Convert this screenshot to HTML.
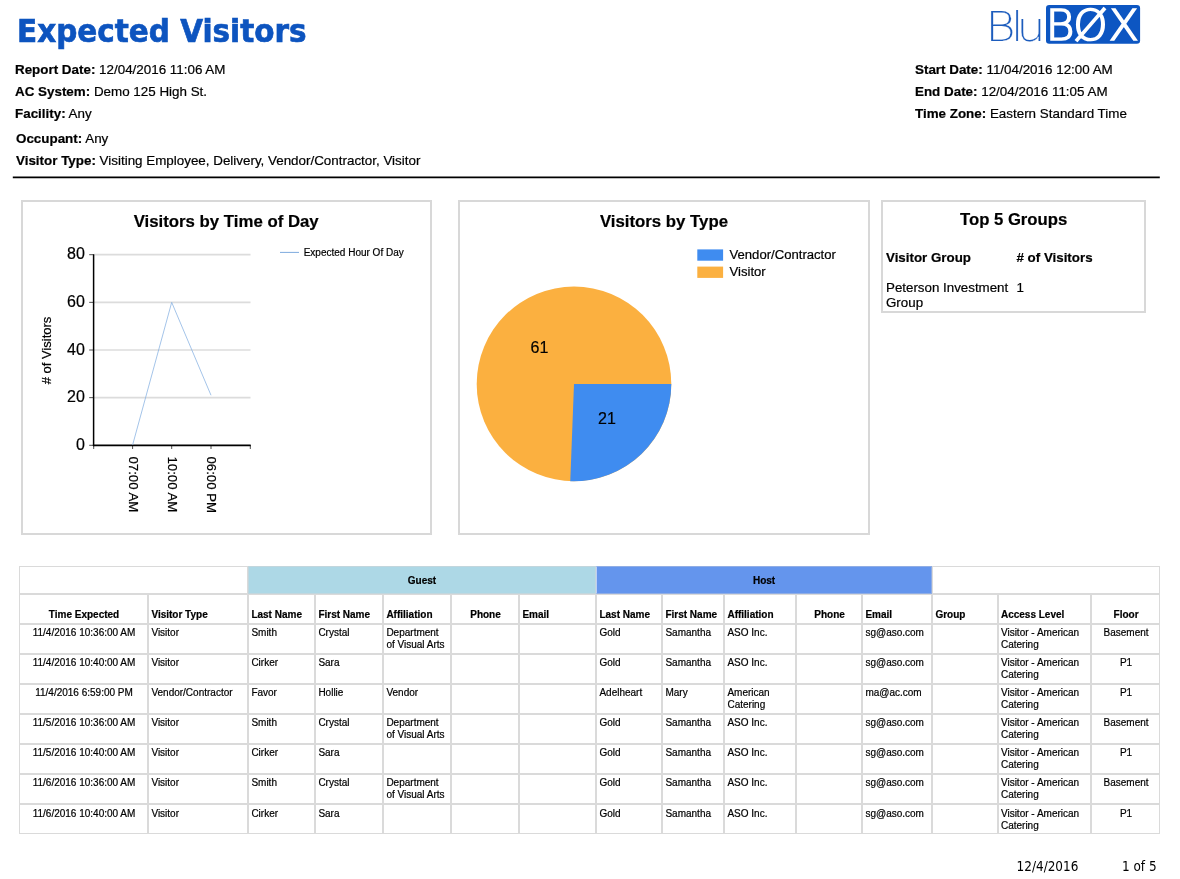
<!DOCTYPE html>
<html><head><meta charset="utf-8"><title>Expected Visitors</title>
<style>
html,body{margin:0;padding:0;background:#fff;}
body{width:1180px;height:879px;position:relative;overflow:hidden;font-family:"Liberation Sans",Arial,sans-serif;color:#000;}
.abs{position:absolute;white-space:nowrap;}
.title{left:16.5px;top:10.5px;font-family:"DejaVu Sans",sans-serif;font-weight:bold;font-size:32px;line-height:40px;color:#0d54bf;-webkit-text-stroke:0.7px #0d54bf;transform-origin:0 0;transform:scaleX(0.921);}
.meta{-webkit-text-stroke:0.2px #000;font-size:13.4px;line-height:16px;}
.meta b{font-weight:bold;}
.rule{position:absolute;left:13px;top:176px;width:1147px;height:2px;background:#111;}
.box{position:absolute;border:2px solid #d8d8d8;box-sizing:border-box;background:#fff;}
.ctitle{font-weight:bold;font-size:16.5px;line-height:20px;}
.foot{font-family:"DejaVu Sans Condensed","DejaVu Sans",sans-serif;font-size:13.4px;line-height:16px;}
table.grid{-webkit-text-stroke:0.2px #000;position:absolute;left:19px;top:566px;border-collapse:separate;border-spacing:0;table-layout:fixed;font-size:10px;line-height:12px;width:1141px;}
table.grid td,table.grid th{border:1px solid #dadada;padding:2px 3px 0 2.4px;vertical-align:top;text-align:left;overflow:hidden;font-weight:normal;box-sizing:border-box;height:30px;white-space:nowrap;}
table.grid th{font-weight:bold;vertical-align:bottom;padding:0 3px 2px 2.4px;}
table.grid tr.h1 th{height:27.5px;vertical-align:middle;padding:2px 0 0 0;}
table.grid .c{text-align:center;padding-left:3.5px;padding-right:2.5px;}
table.grid tr.last td{padding-top:3px;}
svg.chart text{stroke:#000;stroke-width:0.2px;}
.t5{-webkit-text-stroke:0.2px #000;}
</style></head><body>

<div class="abs title" id="title">Expected Visitors</div>

<div class="abs meta" style="left:15px;top:62px"><b>Report Date:</b> 12/04/2016 11:06 AM</div>
<div class="abs meta" style="left:15px;top:84px"><b>AC System:</b> Demo 125 High St.</div>
<div class="abs meta" style="left:15px;top:106px"><b>Facility:</b> Any</div>
<div class="abs meta" style="left:16px;top:131px"><b>Occupant:</b> Any</div>
<div class="abs meta" style="left:16px;top:153px"><b>Visitor Type:</b> Visiting Employee, Delivery, Vendor/Contractor, Visitor</div>

<div class="abs meta" style="left:915px;top:62px"><b>Start Date:</b> 11/04/2016 12:00 AM</div>
<div class="abs meta" style="left:915px;top:84px"><b>End Date:</b> 12/04/2016 11:05 AM</div>
<div class="abs meta" style="left:915px;top:106px"><b>Time Zone:</b> Eastern Standard Time</div>

<svg class="abs" style="left:0;top:170px" width="1180" height="14" viewBox="0 170 1180 14"><line x1="12.8" x2="1159.8" y1="177.35" y2="177.35" stroke="#000" stroke-width="1.8"/></svg>

<!-- LOGO -->
<svg class="abs" id="logo" style="left:980px;top:0" width="170" height="50" viewBox="980 0 170 50" font-family="DejaVu Sans Light, DejaVu Sans, sans-serif" font-weight="200">
  <rect x="1046" y="4.9" width="94.1" height="38.9" rx="3.2" fill="#0d56c2"/>
  <text transform="translate(0,40.9) scale(1.12,1)" x="879.62 902.53 907.41" y="0" font-size="41.5px" fill="#1c5cbd" stroke="#fff" stroke-width="0.25">Blu</text>
  <text transform="translate(0,39.75) scale(1.03,1)" x="1015.20 1042.00 1076.49" y="0" font-size="42.5px" fill="#fff" stroke="#fff" stroke-width="1.7">BØX</text>
</svg>

<!-- CHART 1 -->
<div class="box" style="left:21px;top:200px;width:411px;height:335px"></div>
<svg class="abs chart" style="left:0;top:190px" width="450" height="360" viewBox="0 190 450 360" font-family="Liberation Sans, Arial, sans-serif">
<g stroke="#dcdcdc" stroke-width="1.7"><line x1="94" x2="250.5" y1="254.7" y2="254.7"/><line x1="94" x2="250.5" y1="302.35" y2="302.35"/><line x1="94" x2="250.5" y1="350.0" y2="350.0"/><line x1="94" x2="250.5" y1="397.65" y2="397.65"/></g>
<g stroke="#222" stroke-width="0.8"><line x1="89.2" x2="94" y1="254.7" y2="254.7"/><line x1="89.2" x2="94" y1="302.35" y2="302.35"/><line x1="89.2" x2="94" y1="350.0" y2="350.0"/><line x1="89.2" x2="94" y1="397.65" y2="397.65"/><line x1="89.2" x2="94" y1="445.3" y2="445.3"/></g>
<g stroke="#222" stroke-width="0.8"><line x1="93.7" x2="93.7" y1="445" y2="449"/><line x1="132.6" x2="132.6" y1="445" y2="449"/><line x1="171.7" x2="171.7" y1="445" y2="449"/><line x1="211" x2="211" y1="445" y2="449"/><line x1="250.3" x2="250.3" y1="445" y2="449"/></g>
<line x1="93.6" x2="93.6" y1="254.4" y2="446.2" stroke="#000" stroke-width="1.5"/>
<line x1="92.9" x2="250.7" y1="445.3" y2="445.3" stroke="#000" stroke-width="1.8"/>
<polyline points="132.6,445 171.7,302.35 211,395.27" fill="none" stroke="#86b0e2" stroke-width="0.75"/>
<g font-size="16px" text-anchor="end"><text x="84.8" y="259.40">80</text><text x="84.8" y="307.05">60</text><text x="84.8" y="354.70">40</text><text x="84.8" y="402.35">20</text><text x="84.8" y="450.00">0</text></g>
<text font-size="13px" text-anchor="middle" transform="translate(51,350.5) rotate(-90)"># of Visitors</text>
<g font-size="13.2px">
<text transform="translate(128.5,456.5) rotate(90)">07:00 AM</text>
<text transform="translate(167.5,456.5) rotate(90)">10:00 AM</text>
<text transform="translate(207,456.5) rotate(90)">06:00 PM</text>
</g>
<line x1="280" x2="299" y1="252.4" y2="252.4" stroke="#7eabde" stroke-width="1"/>
<text x="303.7" y="255.8" font-size="10px">Expected Hour Of Day</text>
<text x="226.2" y="226.6" font-size="16.8px" font-weight="bold" text-anchor="middle">Visitors by Time of Day</text>
</svg>
<!-- CHART 2 -->
<div class="box" style="left:458px;top:200px;width:412px;height:335px"></div>
<svg class="abs chart" style="left:450px;top:190px" width="430" height="360" viewBox="450 190 430 360" font-family="Liberation Sans, Arial, sans-serif">
<circle cx="574" cy="383.9" r="97.3" fill="#fbb040"/>
<path d="M574,383.9 L671.3,383.9 A97.3,97.3 0 0 1 570.27,481.13 Z" fill="#3f8cf0"/>
<text x="539.5" y="353" font-size="16px" text-anchor="middle">61</text>
<text x="607" y="424" font-size="16px" text-anchor="middle">21</text>
<rect x="697.3" y="249.4" width="25.8" height="11.3" fill="#3f8cf0"/>
<rect x="697.3" y="266.6" width="25.8" height="11.3" fill="#fbb040"/>
<text x="729.5" y="258.9" font-size="13.12px">Vendor/Contractor</text>
<text x="729.5" y="275.9" font-size="13.12px">Visitor</text>
<text x="664" y="226.6" font-size="16.8px" font-weight="bold" text-anchor="middle">Visitors by Type</text>
</svg>
<!-- TOP 5 -->
<div class="box" style="left:881px;top:200px;width:265px;height:113px"></div>
<div class="abs t5" style="left:960px;top:210px;font-weight:bold;font-size:16.7px;line-height:20px" id="t5">Top 5 Groups</div>
<div class="abs t5" style="left:886px;top:249.6px;font-weight:bold;font-size:13.33px;line-height:16px">Visitor Group</div>
<div class="abs t5" style="left:1016.5px;top:249.6px;font-weight:bold;font-size:13.33px;line-height:16px"># of Visitors</div>
<div class="abs t5" style="left:886px;top:280.4px;font-size:13.33px;line-height:15px;white-space:normal;width:128px">Peterson Investment Group</div>
<div class="abs t5" style="left:1016.5px;top:280.4px;font-size:13.33px;line-height:15px">1</div>
<!-- TABLE -->
<table class="grid"><col style="width:129px"><col style="width:100px"><col style="width:67px"><col style="width:68px"><col style="width:68px"><col style="width:68px"><col style="width:77px"><col style="width:66px"><col style="width:62px"><col style="width:72px"><col style="width:66px"><col style="width:70px"><col style="width:65.5px"><col style="width:93.5px"><col style="width:69px">
<tr class="h1"><th colspan="2"></th><th colspan="5" class="c" style="background:#add8e6;border-color:#c2d6dd">Guest</th><th colspan="5" class="c" style="background:#6495ed;border-color:#90ade4;border-left-color:#bcd0f4">Host</th><th colspan="3"></th></tr>
<tr class="h2"><th class="c">Time Expected</th><th>Visitor Type</th><th>Last Name</th><th>First Name</th><th>Affiliation</th><th class="c">Phone</th><th>Email</th><th>Last Name</th><th>First Name</th><th>Affiliation</th><th class="c">Phone</th><th>Email</th><th>Group</th><th>Access Level</th><th class="c">Floor</th></tr>
<tr><td class="c">11/4/2016 10:36:00 AM</td><td>Visitor</td><td>Smith</td><td>Crystal</td><td>Department<br>of Visual Arts</td><td></td><td></td><td>Gold</td><td>Samantha</td><td>ASO Inc.</td><td></td><td>sg@aso.com</td><td></td><td>Visitor - American<br>Catering</td><td class="c">Basement</td></tr>
<tr><td class="c">11/4/2016 10:40:00 AM</td><td>Visitor</td><td>Cirker</td><td>Sara</td><td></td><td></td><td></td><td>Gold</td><td>Samantha</td><td>ASO Inc.</td><td></td><td>sg@aso.com</td><td></td><td>Visitor - American<br>Catering</td><td class="c">P1</td></tr>
<tr><td class="c">11/4/2016 6:59:00 PM</td><td>Vendor/Contractor</td><td>Favor</td><td>Hollie</td><td>Vendor</td><td></td><td></td><td>Adelheart</td><td>Mary</td><td>American<br>Catering</td><td></td><td>ma@ac.com</td><td></td><td>Visitor - American<br>Catering</td><td class="c">P1</td></tr>
<tr><td class="c">11/5/2016 10:36:00 AM</td><td>Visitor</td><td>Smith</td><td>Crystal</td><td>Department<br>of Visual Arts</td><td></td><td></td><td>Gold</td><td>Samantha</td><td>ASO Inc.</td><td></td><td>sg@aso.com</td><td></td><td>Visitor - American<br>Catering</td><td class="c">Basement</td></tr>
<tr><td class="c">11/5/2016 10:40:00 AM</td><td>Visitor</td><td>Cirker</td><td>Sara</td><td></td><td></td><td></td><td>Gold</td><td>Samantha</td><td>ASO Inc.</td><td></td><td>sg@aso.com</td><td></td><td>Visitor - American<br>Catering</td><td class="c">P1</td></tr>
<tr><td class="c">11/6/2016 10:36:00 AM</td><td>Visitor</td><td>Smith</td><td>Crystal</td><td>Department<br>of Visual Arts</td><td></td><td></td><td>Gold</td><td>Samantha</td><td>ASO Inc.</td><td></td><td>sg@aso.com</td><td></td><td>Visitor - American<br>Catering</td><td class="c">Basement</td></tr>
<tr class="last"><td class="c">11/6/2016 10:40:00 AM</td><td>Visitor</td><td>Cirker</td><td>Sara</td><td></td><td></td><td></td><td>Gold</td><td>Samantha</td><td>ASO Inc.</td><td></td><td>sg@aso.com</td><td></td><td>Visitor - American<br>Catering</td><td class="c">P1</td></tr>
</table>

<div class="abs foot" style="left:1016.6px;top:858.8px">12/4/2016</div>
<div class="abs foot" style="left:1122px;top:858.8px">1 of 5</div>
</body></html>
